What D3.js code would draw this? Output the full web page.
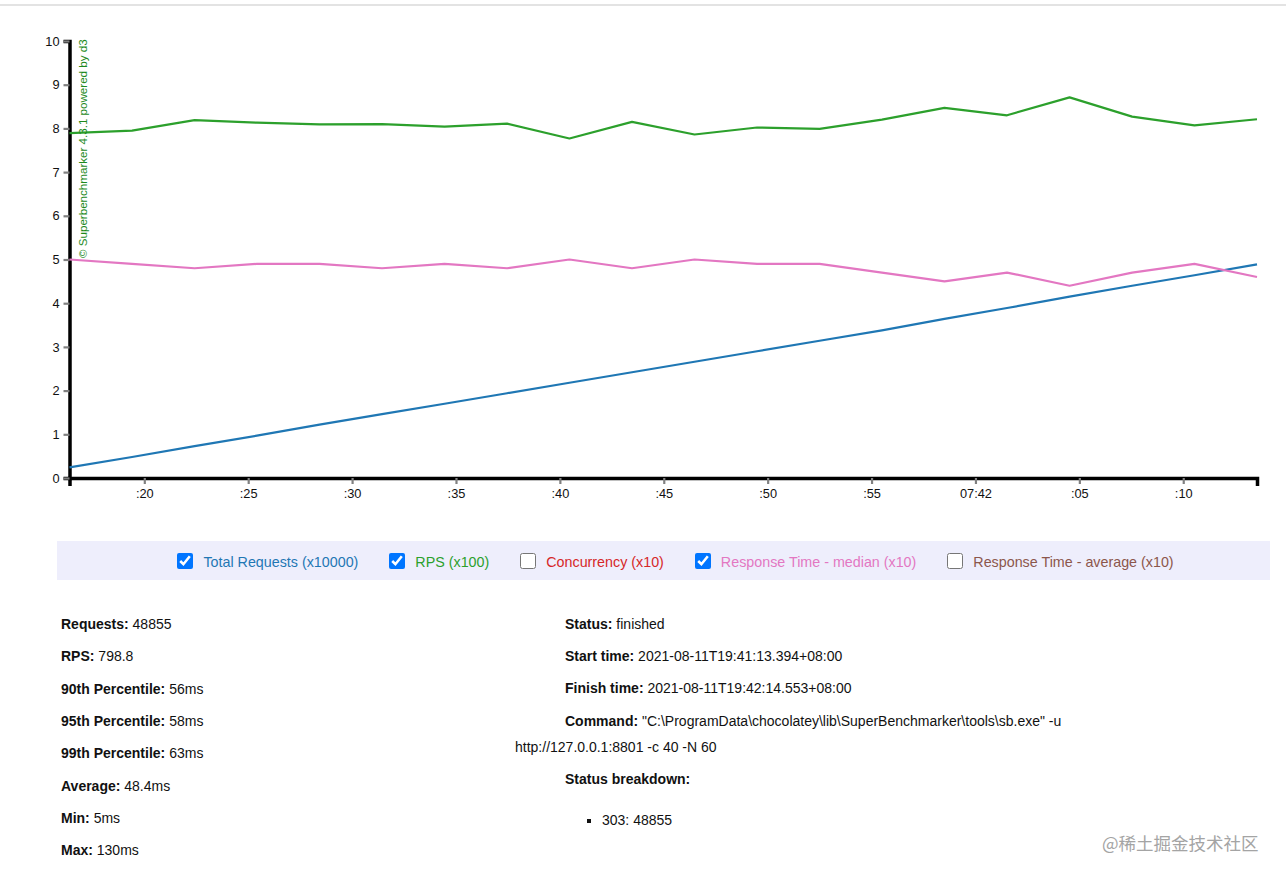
<!DOCTYPE html>
<html>
<head>
<meta charset="utf-8">
<script src="https://cdn.jsdelivr.net/npm/d3@7"></script>
<style>
  html,body{margin:0;padding:0;}
  body{width:1286px;height:878px;overflow:hidden;background:#fff;position:relative;
       font-family:"Liberation Sans",Arial,sans-serif;color:#111;}
  #topline{position:absolute;left:0;top:4px;width:1286px;height:2px;background:#e3e3e3;}
  #chart{position:absolute;left:0;top:0;}
  #legend{position:absolute;left:57px;top:541px;width:1213px;height:39px;background:#eeeefc;
          display:flex;align-items:center;justify-content:center;padding-left:24px;padding-top:3px;box-sizing:border-box;}
  #legend .item{display:flex;align-items:center;margin-right:31px;font-size:14.3px;white-space:nowrap;}
  #legend .item:last-child{margin-right:0;}
  #legend input{width:16px;height:16px;margin:-2px 10px 0 0;accent-color:#0075ff;}
  .row{position:absolute;font-size:14px;line-height:20px;white-space:nowrap;}
  .row b{font-weight:bold;}
  ul.bd{position:absolute;margin:0;padding:0;list-style:square;font-size:14px;line-height:20px;}
  #wm{position:absolute;left:1102px;top:830px;font-family:"Noto Sans CJK SC",sans-serif;font-size:17.5px;color:#a4a4a4;white-space:nowrap;}
</style>
</head>
<body>
<div id="topline"></div>
<svg id="chart" width="1286" height="530"></svg>
<div id="legend"></div>
<div id="stats"></div>
<div id="wm">@稀土掘金技术社区</div>
<script>
// ---- data (sample timestamps, 2021-08-11 local time) ----
const sampleTimes = ["19:41:16.40","19:41:19.41","19:41:22.42","19:41:25.42","19:41:28.43",
  "19:41:31.44","19:41:34.45","19:41:37.46","19:41:40.46","19:41:43.47","19:41:46.48",
  "19:41:49.49","19:41:52.50","19:41:55.50","19:41:58.51","19:42:01.52","19:42:04.53",
  "19:42:07.54","19:42:10.54","19:42:13.55"];
// Total Requests (x10000)
const totalRequests = [0.245,0.48,0.73,0.97,1.22,1.46,1.70,1.94,2.18,2.42,2.66,2.90,3.14,3.38,3.64,3.89,4.15,4.40,4.64,4.89];
// RPS (x100)
const rps = [7.89,7.95,8.19,8.13,8.09,8.10,8.04,8.11,7.77,8.15,7.86,8.02,7.99,8.20,8.47,8.30,8.71,8.27,8.07,8.21];
// Response Time - median (x10)
const medianResponse = [5.0,4.9,4.8,4.9,4.9,4.8,4.9,4.8,5.0,4.8,5.0,4.9,4.9,4.7,4.5,4.7,4.4,4.7,4.9,4.6];

const yDomain = [0, 10];
const legendLabels = ["Total Requests (x10000)","RPS (x100)","Concurrency (x10)","Response Time - median (x10)","Response Time - average (x10)"];
const legendColors = ["#1f77b4","#2ca02c","#d62728","#e377c2","#8c564b"];
const legendChecked = [true,true,false,true,false];

const statsLeftLabels = ["Requests:","RPS:","90th Percentile:","95th Percentile:","99th Percentile:","Average:","Min:","Max:"];
const statsLeftValues = ["48855","798.8","56ms","58ms","63ms","48.4ms","5ms","130ms"];
const statusBreakdown = ["303: 48855"];

// ---- chart ----
const parseT = s => { const [h,m,sec] = s.split(":"); const ss = parseFloat(sec);
  return new Date(2021,7,11,+h,+m,Math.floor(ss),Math.round((ss-Math.floor(ss))*1000)); };
const times = sampleTimes.map(parseT);

const svg = d3.select("#chart");
const x = d3.scaleTime().domain(d3.extent(times)).range([69.5, 1257]);
const y = d3.scaleLinear().domain(yDomain).range([478, 41]);

const gx = svg.append("g").attr("transform","translate(0,478)")
  .call(d3.axisBottom(x).ticks(d3.timeSecond.every(5)).tickSizeOuter(8));
const gy = svg.append("g").attr("transform","translate(69.5,0)")
  .call(d3.axisLeft(y).ticks(10).tickSizeOuter(6));
[gx,gy].forEach(g=>{
  g.select(".domain").attr("stroke","#000").attr("stroke-width",3.5);
  g.selectAll(".tick line").attr("stroke","#808080").attr("stroke-width",2.2);
  g.selectAll(".tick text").attr("fill","#111").attr("font-size",12.8)
    .attr("font-family","'Liberation Sans',Arial,sans-serif");
});
gy.selectAll(".tick text").attr("x",-10);
gx.selectAll(".tick text").attr("y",11);

const series = [
  {vals: totalRequests, color: legendColors[0]},
  {vals: rps, color: legendColors[1]},
  {vals: medianResponse, color: legendColors[3]}
];
const line = d3.line().x((d,i)=>x(times[i])).y(d=>y(d));
series.forEach(s=>{
  svg.append("path").datum(s.vals).attr("d",line).attr("fill","none")
    .attr("stroke",s.color).attr("stroke-width",2.2).attr("stroke-linejoin","round");
});

svg.append("text").attr("transform","translate(87,258) rotate(-90)")
  .attr("fill","#1d8a1d").attr("font-size",11.6)
  .attr("font-family","'Liberation Sans',Arial,sans-serif")
  .text("© Superbenchmarker 4.3.1 powered by d3");

// ---- legend ----
const leg = d3.select("#legend").selectAll(".item").data(legendLabels).join("label").attr("class","item");
leg.append("input").attr("type","checkbox").property("checked",(d,i)=>legendChecked[i]);
leg.append("span").style("color",(d,i)=>legendColors[i]).text(d=>d);

// ---- stats ----
const stats = d3.select("#stats");
statsLeftLabels.forEach((lab,i)=>{
  const r = stats.append("div").attr("class","row").style("left","61px").style("top",(614 + i*32.3)+"px");
  r.append("b").text(lab); r.append("span").text(" " + statsLeftValues[i]);
});
const rightRows = [
  ["Status:"," finished",614],
  ["Start time:"," 2021-08-11T19:41:13.394+08:00",646],
  ["Finish time:"," 2021-08-11T19:42:14.553+08:00",678],
  ["Command:"," \"C:\\ProgramData\\chocolatey\\lib\\SuperBenchmarker\\tools\\sb.exe\" -u",711]
];
rightRows.forEach(r=>{
  const d = stats.append("div").attr("class","row").style("left","565px").style("top",r[2]+"px");
  d.append("b").text(r[0]); d.append("span").text(r[1]);
});
stats.append("div").attr("class","row").style("left","515px").style("top","737px")
  .text("http://127.0.0.1:8801 -c 40 -N 60");
stats.append("div").attr("class","row").style("left","565px").style("top","769px")
  .append("b").text("Status breakdown:");
stats.append("ul").attr("class","bd").style("left","602px").style("top","810px")
  .selectAll("li").data(statusBreakdown).join("li").text(d=>d);
</script>
</body>
</html>
